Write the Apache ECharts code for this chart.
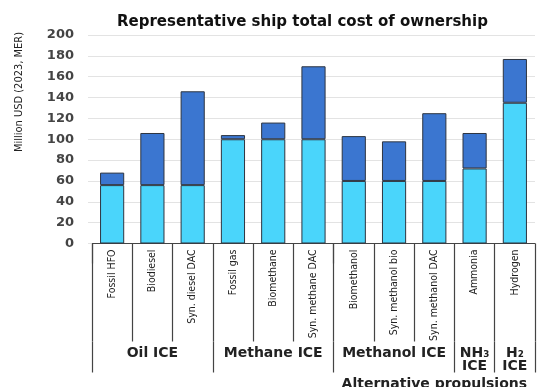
<!DOCTYPE html>
<html>
<head>
<meta charset="utf-8">
<script src="https://cdn.jsdelivr.net/npm/echarts@6/dist/echarts.min.js"></script>
<style>
  html, body { margin: 0; padding: 0; background: #fff; }
  #chart { width: 539px; height: 387px; }
</style>
</head>
<body>
<div id="chart"></div>
<script>
// fuel pathways (bottom row of the table)
const categories = ['Fossil HFO', 'Biodiesel', 'Syn. diesel DAC', 'Fossil gas', 'Biomethane',
  'Syn. methane DAC', 'Biomethanol', 'Syn. methanol bio', 'Syn. methanol DAC', 'Ammonia', 'Hydrogen'];
// engine groups, label sits on the middle category of each group
const groupLabels = ['', 'Oil ICE', '', '', 'Methane ICE', '', '', 'Methanol ICE', '', 'NH₃\nICE', 'H₂\nICE'];
const groupStarts = [0, 3, 6, 9, 10];
const topLabels = ['', '', '', '', '', '', '', '', 'Alternative propulsions', '', ''];
const leftBlock = 6; // first 6 pathways = conventional block

// million USD
const lowerPart = [56, 56, 56, 100, 100, 100, 60, 60, 60, 72, 135];
const upperPart = [12, 50, 90, 4, 16, 70, 43, 38, 65, 34, 42];

const yTicks = { min: 0, max: 200, interval: 20 };

const narrow = '"DejaVu Sans Condensed", "Liberation Sans Narrow", sans-serif';
const wide = '"DejaVu Sans", Verdana, sans-serif';

const W = 539, gLeft = 92, gRight = 4;
const band = (W - gLeft - gRight) / categories.length;

const chart = echarts.init(document.getElementById('chart'));

const option = {
  animation: false,
  title: {
    text: 'Representative ship total cost of ownership',
    left: 112,
    top: 10,
    textStyle: { fontFamily: wide, fontSize: 15, fontWeight: 'bold', color: '#111' }
  },
  grid: [
    { left: gLeft, right: gRight, top: 35, bottom: 143.5, outerBoundsMode: 'none' },
    // only carries the tall dividers of the first block
    { left: gLeft, right: gRight + band * (categories.length - leftBlock), top: 35, bottom: 143.5, outerBoundsMode: 'none' }
  ],
  graphic: [{
    type: 'text',
    x: 19,
    y: 92,
    rotation: Math.PI / 2,
    style: {
      text: 'Million USD (2023, MER)',
      align: 'center',
      verticalAlign: 'middle',
      font: '11px ' + narrow,
      fill: '#222'
    }
  }],
  xAxis: [
    {
      type: 'category',
      data: categories,
      axisLine: { lineStyle: { color: '#444', width: 1 } },
      axisTick: { show: true, length: 98, lineStyle: { color: '#444', width: 1.2 } },
      axisLabel: { interval: 0, rotate: 90, margin: 6, fontFamily: narrow, fontSize: 10.5, color: '#222' }
    },
    {
      type: 'category',
      data: groupLabels,
      position: 'bottom',
      offset: 98,
      axisLine: { show: false },
      axisTick: {
        show: true, length: 31,
        interval: function (i) { return groupStarts.indexOf(i) >= 0; },
        lineStyle: { color: '#444', width: 1.2 }
      },
      axisLabel: { interval: 0, margin: 5, fontFamily: wide, fontSize: 14, fontWeight: 'bold', color: '#222', lineHeight: 13 }
    },
    {
      type: 'category',
      data: topLabels,
      position: 'bottom',
      offset: 129,
      axisLine: { show: false },
      axisTick: { show: false },
      axisLabel: { interval: 0, margin: 5, fontFamily: wide, fontSize: 14, fontWeight: 'bold', color: '#222' }
    },
    {
      type: 'category',
      gridIndex: 1,
      data: categories.slice(0, leftBlock),
      position: 'bottom',
      offset: 129,
      axisLine: { show: false },
      axisTick: {
        show: true, length: 20,
        interval: function (i) { return i === 0; },
        lineStyle: { color: '#444', width: 1.2 }
      },
      axisLabel: { show: false }
    }
  ],
  yAxis: [
    {
      type: 'value',
      min: yTicks.min,
      max: yTicks.max,
      interval: yTicks.interval,
      axisLine: { show: false },
      axisTick: { show: true, length: 4, lineStyle: { color: '#e3e3e3' } },
      splitLine: { lineStyle: { color: '#e3e3e3' } },
      axisLabel: { margin: 18, fontFamily: wide, fontSize: 13, fontWeight: 'bold', color: '#444' }
    },
    { type: 'value', gridIndex: 1, show: false }
  ],
  series: [
    {
      name: 'lower',
      type: 'bar',
      stack: 'tco',
      barWidth: '60%',
      data: lowerPart,
      itemStyle: { color: '#4ad5fb', borderColor: '#2e3540', borderWidth: 1 }
    },
    {
      name: 'upper',
      type: 'bar',
      stack: 'tco',
      barWidth: '60%',
      data: upperPart,
      itemStyle: { color: '#3b76d0', borderColor: '#2e3540', borderWidth: 1 }
    }
  ]
};

chart.setOption(option);
</script>
</body>
</html>
